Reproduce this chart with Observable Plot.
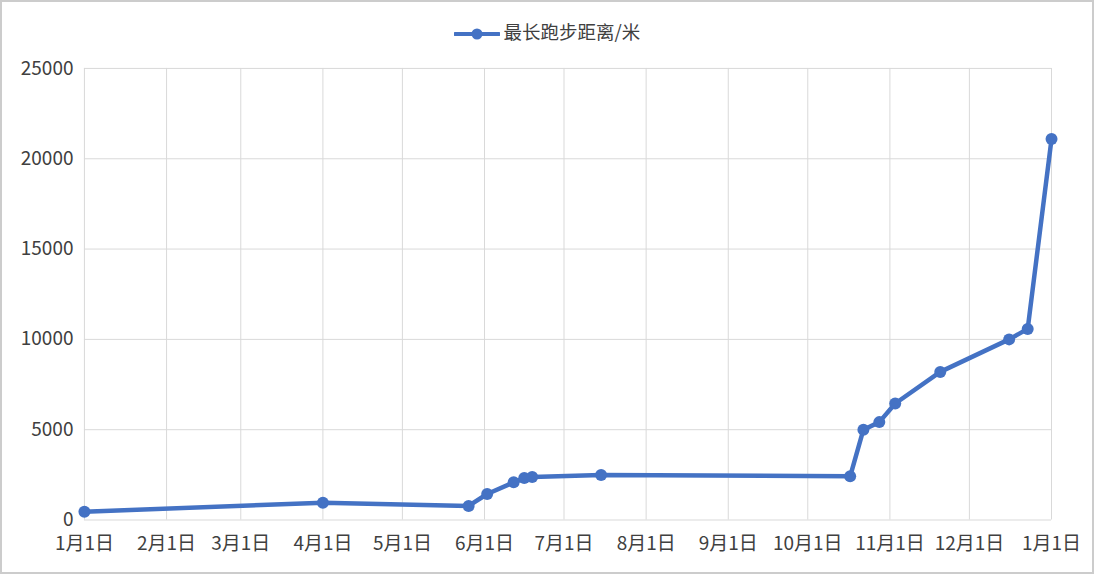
<!DOCTYPE html>
<html>
<head>
<meta charset="utf-8">
<script src="https://cdn.jsdelivr.net/npm/d3@7"></script>
<script src="https://cdn.jsdelivr.net/npm/@observablehq/plot@0.6"></script>
<style>
  body { margin: 0; background: #fff; }
  #frame { position: relative; width: 1094px; height: 574px; box-sizing: border-box; border: 2px solid #cccccc; background: #fff; font-family: "Noto Sans CJK SC", "Noto Sans", sans-serif; }
  #legend { position: absolute; top: 16px; left: 0; width: 100%; text-align: center; font-size: 18.5px; color: #404040; }
  #legend svg { vertical-align: middle; margin-right: 4px; }
  #chart { position: absolute; top: -1px; left: -1px; }
</style>
</head>
<body>
<div id="frame">
  <div id="legend"><svg width="46" height="14"><line x1="1" y1="7" x2="45" y2="7" stroke="#4472C4" stroke-width="4" stroke-linecap="round"/><circle cx="23" cy="7" r="5.5" fill="#4472C4"/></svg><span>最长跑步距离/米</span></div>
  <div id="chart"></div>
</div>
<script>
// 日期与最长距离
const dates = ['2023-01-01','2023-04-01','2023-05-26','2023-06-02','2023-06-12','2023-06-16','2023-06-19','2023-07-15',
  '2023-10-17','2023-10-22','2023-10-28','2023-11-03','2023-11-20','2023-12-16','2023-12-23','2024-01-01']
const distances = [460, 960, 780, 1440, 2085, 2320, 2380, 2490, 2420, 5000, 5420, 6450, 8200, 10000, 10580, 21097]
const yTicks = [0, 5000, 10000, 15000, 20000, 25000]

const data = dates.map((d, i) => ({date: new Date(d), value: distances[i]}))
const start = new Date('2023-01-01'), end = new Date('2024-01-01')
const monthTicks = d3.utcMonth.range(start, d3.utcDay.offset(end, 1))

const fmt = d => `${d.getUTCMonth() + 1}月${d.getUTCDate()}日`

let chart = Plot.plot({
  width: 1092,
  height: 572,
  marginLeft: 83,
  marginRight: 41,
  marginTop: 67,
  marginBottom: 53,
  style: {fontFamily: '"Noto Sans CJK SC", sans-serif', fontSize: '19px', color: '#404040', background: 'transparent'},
  x: {type: 'utc', domain: [start, end], ticks: monthTicks, tickFormat: fmt, tickSize: 0, tickPadding: 17, label: null},
  y: {domain: [0, 25000], ticks: yTicks, tickFormat: d => String(d), tickSize: 0, tickPadding: 11, label: null},
  marks: [
    Plot.gridX(monthTicks, {stroke: '#d9d9d9', strokeOpacity: 1, strokeWidth: 1}),
    Plot.gridY(yTicks, {stroke: '#d9d9d9', strokeOpacity: 1, strokeWidth: 1}),
    Plot.line(data, {x: 'date', y: 'value', stroke: '#4472C4', strokeWidth: 4.5, strokeLinejoin: 'round', strokeLinecap: 'round'}),
    Plot.dot(data, {x: 'date', y: 'value', r: 6, fill: '#4472C4', stroke: 'none'}),
  ],
})

d3.select('#chart').append(() => chart)
</script>
</body>
</html>
